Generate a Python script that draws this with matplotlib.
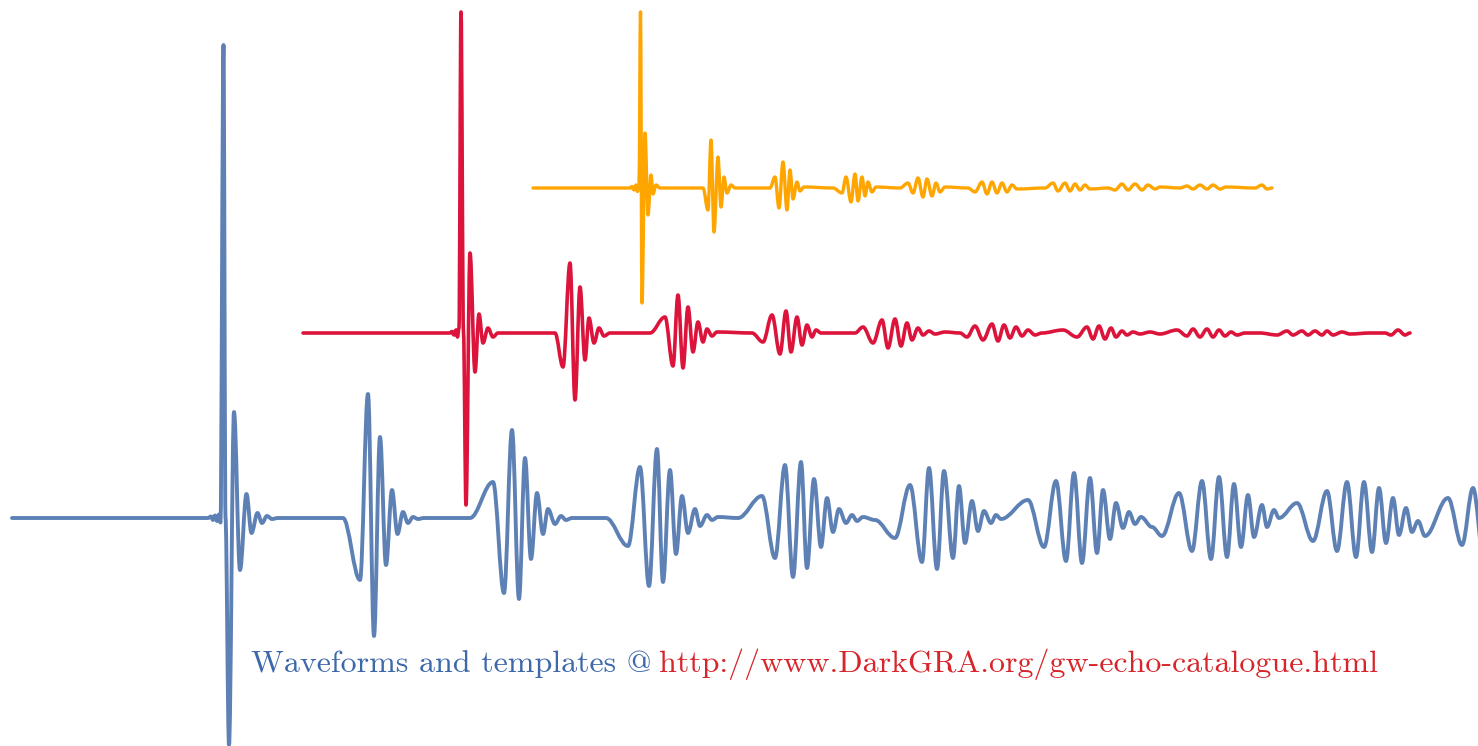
import matplotlib
matplotlib.use('Agg')
import matplotlib.pyplot as plt
from matplotlib.path import Path
from matplotlib.patches import PathPatch


# Echo waveforms (time, height).
# Heights are in picture units, so the y axis is turned upside down.
blue_t = [12, 208, 211, 213, 215, 217, 219, 220.5, 223.5, 225.5, 229, 234, 240, 246.5, 251.5, 257.5, 262, 267, 272, 278,
          343, 360, 368, 374, 380, 386, 392, 397.5, 403, 408, 413, 418, 424,
          470, 493, 504, 512, 519, 525, 531, 537, 543, 548, 555, 561, 566, 572,
          606, 628, 640, 649, 657, 663, 670, 676, 682, 688, 695, 700, 707, 712, 718,
          738, 762, 775, 785, 793, 801, 807, 814, 821, 827, 833, 839, 846, 852, 857, 863, 875,
          895, 910, 922, 929, 937, 944, 953, 959, 965, 972, 978, 984, 991, 996, 1001, 1028,
          1044, 1056, 1066, 1074, 1082, 1090, 1097, 1103, 1110, 1116, 1123, 1129, 1135, 1141, 1152, 1162,
          1179, 1192, 1202, 1211, 1219, 1227, 1234, 1241, 1248, 1254, 1262, 1267, 1274, 1279, 1297,
          1313, 1327, 1337, 1347, 1356, 1364, 1372, 1379, 1386, 1393, 1399, 1406, 1412, 1418, 1425,
          1448, 1462, 1473, 1484]
blue_y = [518, 518, 516.5, 520, 515.5, 521, 514.5, 522.5, 45, 518, 745, 412, 570, 494, 533, 513, 523, 516, 519, 518,
          518, 580, 394, 636, 437, 565, 490, 534, 512, 523, 517, 519, 518,
          518, 482, 593, 430, 599, 458, 559, 493, 534, 509, 524, 516, 520, 518,
          518, 546, 467, 586, 449, 582, 470, 554, 496, 533, 509, 526, 515, 520, 517,
          518, 496, 558, 465, 577, 462, 568, 479, 547, 498, 532, 509, 523, 515, 521, 517, 520,
          538, 485, 562, 468, 569, 471, 558, 486, 543, 501, 531, 511, 523, 515, 519, 500,
          547, 481, 561, 473, 563, 478, 553, 490, 539, 503, 528, 512, 524, 517, 527, 536,
          493, 551, 481, 559, 477, 557, 484, 547, 495, 537, 505, 527, 510, 518, 503,
          541, 491, 551, 482, 557, 482, 552, 488, 543, 498, 535, 508, 532, 521, 536,
          498, 545, 488, 560]

red_t = [303, 450, 452, 454, 456, 457.5, 459, 461, 463.5, 466, 470, 475, 479, 483, 488, 493, 498,
         555, 563, 570, 575, 580, 585, 589, 594, 599, 604, 610,
         650, 665, 673, 678, 683, 688, 693, 698, 703, 707, 712, 717,
         752, 763, 772, 780, 786, 791, 797, 802, 807, 812, 816, 821,
         855, 863, 873, 882, 888, 895, 901, 907, 912, 918, 923, 929, 935, 945,
         960, 967, 975, 983, 992, 998, 1004, 1010, 1016, 1022, 1028, 1035, 1042,
         1063, 1077, 1087, 1093, 1099, 1105, 1111, 1116, 1122, 1127, 1133, 1140, 1150, 1160,
         1177, 1187, 1193, 1200, 1207, 1213, 1219, 1225, 1231, 1237, 1245, 1260,
         1277, 1287, 1293, 1302, 1308, 1315, 1322, 1327, 1333, 1342, 1350, 1370,
         1385, 1391, 1398, 1405, 1410]
red_y = [333, 333, 331.5, 335, 330, 337, 328, 12, 333, 505, 253, 372, 314, 343, 328, 337, 333,
         333, 367, 263, 400, 287, 360, 318, 343, 328, 336, 333,
         333, 317, 366, 295, 368, 307, 352, 322, 342, 329, 336, 332,
         333, 342, 315, 354, 311, 352, 317, 345, 325, 337, 330, 333,
         333, 327, 343, 320, 348, 319, 346, 323, 340, 328, 335, 331, 334, 332,
         333, 337, 326, 340, 324, 341, 325, 338, 327, 336, 330, 335, 333,
         330, 337, 327, 339, 326, 339, 328, 337, 331, 335, 332, 334, 332, 334,
         330, 336, 329, 337, 329, 337, 330, 336, 332, 335, 333, 333,
         335, 331, 335, 331, 335, 331, 335, 331, 335, 332, 334, 333,
         333, 335, 330, 335, 333]

orange_t = [533, 630, 632, 634, 636, 637.5, 639, 640.5, 642, 645, 648, 651, 653, 656, 660,
            703, 708, 711, 714, 718, 721, 724, 727, 731, 735,
            770, 775, 779, 783, 787, 790, 793, 797, 800, 804, 833,
            842, 846, 851, 855, 858, 862, 865, 868, 872, 876, 900,
            908, 913, 918, 923, 927, 932, 936, 940, 945, 968,
            975, 982, 987, 992, 997, 1002, 1007, 1012, 1017, 1045,
            1053, 1058, 1065, 1070, 1075, 1080, 1085, 1090, 1108,
            1115, 1122, 1128, 1135, 1142, 1148, 1155, 1160, 1180,
            1187, 1193, 1200, 1207, 1213, 1220, 1226, 1255,
            1262, 1267, 1272]
orange_y = [188, 188, 186.5, 190, 185, 191.5, 184, 12, 303, 133, 215, 175, 194, 185, 188,
            188, 210, 140, 232, 157, 207, 177, 193, 185, 188,
            188, 177, 208, 162, 210, 170, 199, 182, 191, 187, 188,
            193, 177, 202, 174, 201, 177, 196, 182, 192, 187, 188,
            183, 193, 178, 197, 179, 196, 183, 192, 187, 188,
            192, 182, 194, 182, 193, 183, 192, 185, 189, 188,
            183, 191, 183, 191, 184, 190, 185, 189, 188,
            190, 184, 190, 184, 190, 185, 189, 187, 188,
            186, 189, 185, 189, 185, 189, 187, 188,
            185, 189, 188]

caption_left = 'Waveforms and templates @'
caption_link = 'http://www.DarkGRA.org/gw-echo-catalogue.html'


def wave_path(t, y, a=0.36):
    # smooth Bezier through the turning points, flat tangent at each one
    verts = [(t[0], y[0])]
    codes = [Path.MOVETO]
    for i in range(1, len(t)):
        dt = t[i] - t[i - 1]
        verts += [(t[i - 1] + a * dt, y[i - 1]), (t[i] - a * dt, y[i]), (t[i], y[i])]
        codes += [Path.CURVE4] * 3
    return Path(verts, codes)


fig = plt.figure(figsize=(14.78, 7.46), dpi=100)
ax = fig.add_axes([0, 0, 1, 1])
ax.set_xlim(0, 1478)
ax.set_ylim(746, 0)
ax.axis('off')

for t, y, col, lw, z in [(orange_t, orange_y, '#FFA500', 2.4, 1),
                         (red_t, red_y, '#DC143C', 2.6, 2),
                         (blue_t, blue_y, '#5E81B5', 2.8, 3)]:
    ax.add_patch(PathPatch(wave_path(t, y), facecolor='none', edgecolor=col, lw=lw,
                           capstyle='round', joinstyle='round', zorder=z))

fonts = ['cmr10', 'DejaVu Serif']
t1 = ax.text(251, 672, caption_left, color='#3D68AA', fontsize=23, family=fonts,
             ha='left', va='baseline')
fig.canvas.draw()
bb = t1.get_window_extent(renderer=fig.canvas.get_renderer())
x_link = ax.transData.inverted().transform((bb.x1 + 8, 0))[0]
ax.text(x_link, 672, caption_link, color='#D7252B', fontsize=23, family=fonts,
        ha='left', va='baseline')

plt.savefig('out.png', dpi=100)
